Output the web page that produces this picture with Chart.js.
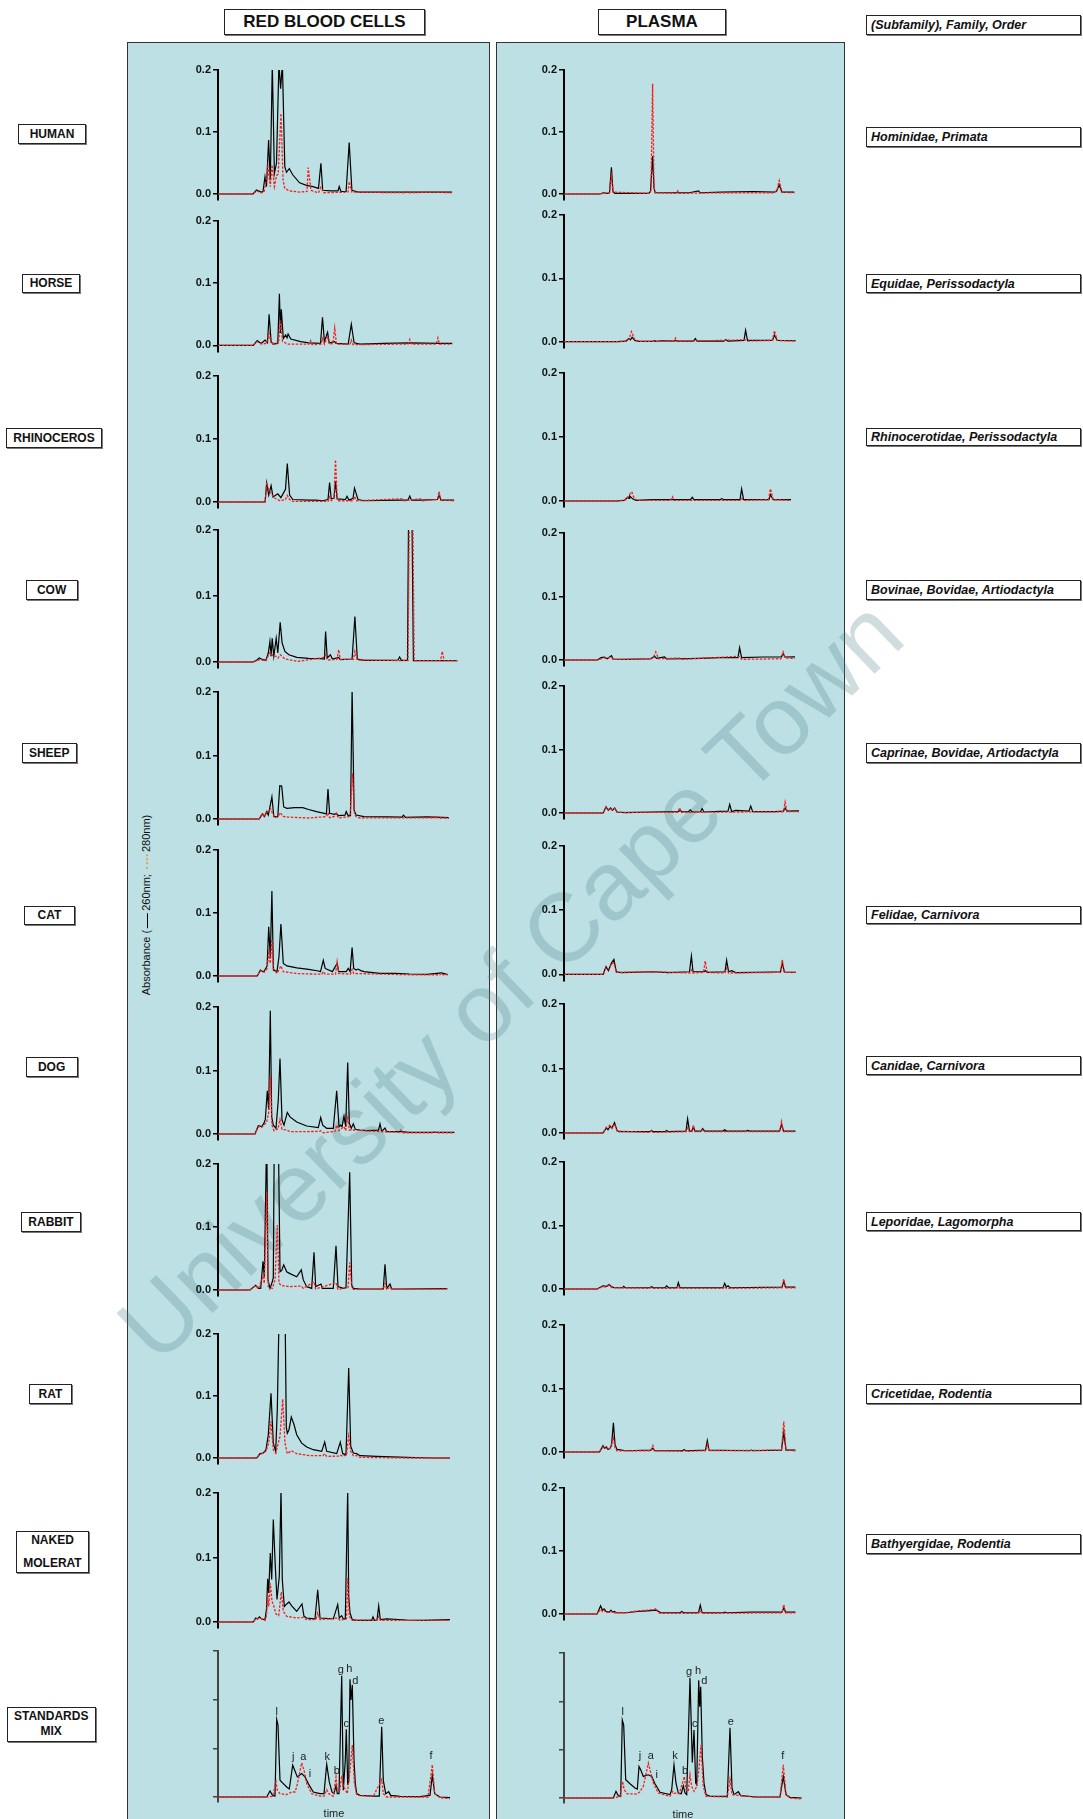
<!DOCTYPE html>
<html><head><meta charset="utf-8">
<script src="https://cdn.jsdelivr.net/npm/chart.js@4.4.1/dist/chart.umd.min.js"></script>
<style>
body{margin:0;width:1083px;height:1819px;position:relative;overflow:hidden;background:#fff;font-family:"Liberation Sans",Arial,sans-serif;}
.panel{position:absolute;background:#bce0e3;border:1.5px solid #333;box-sizing:border-box;z-index:0}
.box{position:absolute;border:1px solid #222;box-shadow:1px 1px 0 #777;background:#fff;box-sizing:border-box;display:flex;flex-direction:column;align-items:center;justify-content:center;font-weight:bold;font-size:12px;color:#111;text-align:center;z-index:3;white-space:nowrap}
.tax{align-items:flex-start;padding-left:4px;font-style:italic;font-size:12.5px}
.hdr{font-size:17px}
canvas{position:absolute;z-index:2}
#wm{position:absolute;left:510px;top:980px;transform:translate(-50%,-50%) rotate(-44deg);font-size:97px;color:rgba(80,130,135,0.27);white-space:nowrap;z-index:1;font-family:"Liberation Sans",Arial,sans-serif}
#ytitle{position:absolute;left:146px;top:905px;transform:translate(-50%,-50%) rotate(-90deg);font-size:11px;color:#111;white-space:nowrap;z-index:3}
.l1{display:inline-block;width:15px;border-top:1.5px solid #000;vertical-align:middle;margin:0 2px}
.l2{display:inline-block;width:15px;border-top:2px dotted #d8a860;vertical-align:middle;margin:0 2px}
.time{position:absolute;font-size:11px;color:#222;z-index:3;transform:translate(-50%,-50%)}
</style></head><body>
<div class="panel" style="left:127px;top:42px;width:363px;height:1800px"></div>
<div class="panel" style="left:495.5px;top:42px;width:349px;height:1800px"></div>
<div id="wm">University of Cape Town</div>
<div id="ytitle">Absorbance (<span class="l1"></span>260nm; <span class="l2"></span>280nm)</div>
<div class="box hdr" style="left:224px;top:9px;width:201px;height:26px">RED BLOOD CELLS</div>
<div class="box hdr" style="left:598px;top:9px;width:128px;height:26px">PLASMA</div>
<div class="time" style="left:334px;top:1813px">time</div>
<div class="time" style="left:683px;top:1814px">time</div>
<div id="labels"></div>
<script>
// ---------- categories / labels ----------
const SPECIES = ['HUMAN','HORSE','RHINOCEROS','COW','SHEEP','CAT','DOG','RABBIT','RAT','NAKED\nMOLERAT','STANDARDS\nMIX'];
const TAXA_HEADER = '(Subfamily), Family, Order';
const TAXA = ['Hominidae, Primata','Equidae, Perissodactyla','Rhinocerotidae, Perissodactyla','Bovinae, Bovidae, Artiodactyla','Caprinae, Bovidae, Artiodactyla','Felidae, Carnivora','Canidae, Carnivora','Leporidae, Lagomorpha','Cricetidae, Rodentia','Bathyergidae, Rodentia'];
const ABS_TICKS = [0, 0.1, 0.2];
const STD_TICKS = [0, 1, 2, 3];
const STD_LETTERS = ['l','j','a','i','k','b','g','h','c','d','e','f'];
// letter anchor (time, absorbance) for standards, RBC then plasma
const STD_RBC_LETTER_T = [58.7,75.3,85.3,92,109.3,118.7,122.7,131.3,128.3,137.3,163.3,213];
const STD_RBC_LETTER_V = [1.755,0.826,0.826,0.468,0.826,0.53,2.615,2.628,1.5,2.394,1.562,0.84];
const STD_PL_LETTER_T = [58.7,76,86.7,92.7,111,121,125,134,130.7,140.3,166.7,218.7];
const STD_PL_LETTER_V = [1.785,0.872,0.872,0.48,0.872,0.549,2.609,2.63,1.524,2.423,1.565,0.872];

// ---------- series: [time, absorbance] ----------
const humanRbc260 = [[0,0],[35,0],[38.5,0.0065],[43,0.003],[45,0.004],[47,0.028],[48.5,0.012],[50.6,0.087],[52.3,0.022],[54.3,0.21],[56.4,0.033],[58.5,0.05],[60.9,0.21],[62.6,0.17],[64.4,0.21],[66.8,0.044],[68.5,0.035],[71.3,0.041],[74.7,0.031],[81.6,0.018],[88.5,0.014],[95,0.012],[100.5,0.009],[102.9,0.0495],[104.7,0.006],[112.6,0.005],[120,0.005],[121.2,0.012],[122.9,0.004],[128.1,0.004],[131.2,0.083],[133.9,0.006],[140.1,0.003],[160.8,0.003],[234.1,0.003]];
const humanRbc280 = [[0,0],[35,0],[38.5,0.005],[43,0.002],[46,0.003],[48,0.02],[49.9,0.044],[52.3,0.012],[54,0.047],[56.4,0.012],[58.5,0.03],[60.2,0.032],[63,0.13],[65.1,0.022],[66.8,0.009],[71.3,0.005],[81.6,0.003],[89,0.004],[90.2,0.0425],[93,0.006],[100.5,0.002],[102.9,0.011],[105.7,0.002],[130,0.003],[131.2,0.02],[133.9,0.003],[187,0.002],[188.3,0.004],[190,0.002],[215.9,0.003],[234,0.002]];
const horseRbc260 = [[0,0],[35.3,0],[39.2,0.0075],[43.2,0.003],[47.1,0.0085],[49.5,0.004],[51.1,0.05],[53.1,0.006],[55,0.002],[59.8,0.003],[61.4,0.083],[62.5,0.02],[63.3,0.058],[65.3,0.011],[67.7,0.0165],[69,0.012],[70.1,0.018],[72.8,0.01],[82.7,0.006],[90.6,0.004],[102.5,0.003],[104.5,0.045],[106.4,0.006],[109.6,0.021],[111.2,0.004],[116.7,0.006],[118,0.003],[130.2,0.002],[133.3,0.034],[136.1,0.004],[142,0.002],[165.8,0.003],[191.8,0.004],[220.3,0.003],[234.2,0.003]];
const horseRbc280 = [[0,0],[35.3,0],[39.2,0.006],[43.2,0.002],[48.5,0.003],[51.1,0.019],[53.1,0.003],[60.5,0.004],[62.5,0.04],[64.5,0.006],[70,0.002],[91,0.002],[92.6,0.0075],[94,0.001],[103,0.002],[104.5,0.011],[106.4,0.002],[109.6,0.015],[111.2,0.002],[115,0.003],[116.7,0.028],[118.5,0.002],[132,0.002],[133.3,0.0085],[135,0.001],[190,0.002],[191.8,0.0095],[193.5,0.002],[218.3,0.002],[219.9,0.012],[221.5,0.002],[234.2,0.002]];
const rhinoRbc260 = [[0,0],[47.1,0],[48.7,0.03],[50.7,0.011],[53.1,0.026],[55,0.008],[59.8,0.013],[62.9,0.007],[67.5,0.02],[69.3,0.061],[71.6,0.011],[74.8,0.004],[90.6,0.003],[97.7,0.003],[104.5,0.002],[110,0.004],[111.6,0.031],[113.2,0.005],[116,0.006],[117.5,0.033],[119.1,0.005],[127.5,0.004],[129,0.009],[131,0.003],[135,0.006],[136.5,0.022],[140,0.004],[146,0.002],[181.6,0.003],[190,0.003],[191.8,0.0095],[193.4,0.003],[202.5,0.003],[219.5,0.004],[221.1,0.0105],[223,0.003],[236.1,0.003]];
const rhinoRbc280 = [[0,0],[47.1,0],[48.7,0.031],[50.9,0.0185],[53.1,0.013],[57,0.006],[62,0.002],[67.5,0.004],[69.3,0.0105],[71.6,0.004],[74.8,0.001],[110,0.001],[111.6,0.008],[113.2,0.002],[116,0.006],[117.5,0.067],[119.1,0.008],[120.5,0.002],[135,0.002],[136.5,0.009],[138.5,0.002],[184.3,0.005],[186,0.002],[202.5,0.005],[204,0.002],[219.5,0.004],[221.1,0.017],[223,0.003],[236.1,0.002]];
const cowRbc260 = [[0,0],[35.3,0],[39.2,0.0035],[41.2,0.006],[45.2,0.0035],[47.9,0.0025],[50.3,0.0136],[51.9,0.031],[53.1,0.0086],[54.2,0.036],[55.8,0.0086],[58.2,0.036],[59.8,0.0136],[62.2,0.06],[64.1,0.029],[66.9,0.016],[70.9,0.011],[78.8,0.007],[90.6,0.0055],[102.5,0.005],[106.4,0.0045],[107.6,0.046],[109.2,0.006],[112.4,0.011],[114.4,0.0045],[120.7,0.007],[122.3,0.0035],[134.1,0.0045],[136.9,0.069],[139.3,0.0045],[146,0.0025],[169.7,0.0025],[180,0.003],[181.6,0.0076],[183.5,0.0025],[189.5,0.0025],[190.7,0.25],[193.8,0.25],[195.4,0.002],[209.2,0.002],[239.3,0.002]];
const cowRbc280 = [[0,0],[35.3,0],[41.2,0.0035],[47.9,0.002],[50.8,0.011],[52.3,0.015],[55,0.009],[58.2,0.0086],[60,0.006],[62.2,0.011],[66.9,0.0045],[80,0.001],[106.4,0.007],[107.6,0.011],[109.5,0.003],[119,0.004],[120.7,0.0186],[122.3,0.004],[135.5,0.004],[136.9,0.016],[139.3,0.003],[190,0.002],[191.5,0.25],[194.6,0.25],[196.2,0.002],[222.5,0.002],[224.3,0.016],[226.2,0.002],[239.3,0.002]];
const sheepRbc260 = [[0,0],[41.2,0],[44.4,0.008],[46.3,0.0037],[48.7,0.0116],[50.3,0.0063],[53.9,0.035],[55.8,0.0037],[59.8,0.0037],[61.8,0.0526],[63.7,0.052],[65.7,0.019],[68.9,0.0168],[76.8,0.018],[84.7,0.0179],[90.6,0.015],[98.5,0.0116],[106.4,0.0089],[108.4,0.008],[110,0.047],[111.6,0.009],[116.3,0.0074],[118.3,0.009],[120.3,0.0053],[127,0.006],[128.2,0.0116],[130.2,0.0053],[132.5,0.0053],[134.1,0.205],[136.1,0.014],[138.1,0.0063],[146,0.0037],[169.7,0.0032],[184,0.003],[185.5,0.006],[187.5,0.0026],[209.2,0.0032],[231,0.0021]];
const sheepRbc280 = [[0,0],[41.2,0],[44.4,0.009],[46.3,0.0037],[49.5,0.0116],[52.7,0.016],[54.5,0.009],[57,0.002],[60,0.004],[62.2,0.01],[65,0.004],[70,0.003],[90.6,0.0016],[108.4,0.0037],[110,0.01],[111.6,0.002],[116.3,0.004],[118.3,0.009],[120.3,0.0016],[132,0.004],[134.5,0.072],[136.5,0.008],[138.1,0.0037],[142,0.0016],[217,0.002],[218.3,0.005],[220,0.0016],[231,0.0016]];
const catRbc260 = [[0,0],[39.2,0],[42.4,0.0095],[44.8,0.0069],[46.3,0.008],[49.1,0.016],[50.7,0.078],[52.3,0.03],[53.9,0.135],[55.4,0.0095],[59,0.0069],[61,0.031],[62.9,0.0825],[65.3,0.02],[68.9,0.016],[78.8,0.013],[90.6,0.0106],[100.5,0.008],[102.5,0.0069],[105.3,0.025],[107.2,0.012],[114.4,0.0069],[119.1,0.02],[120.7,0.0069],[128.2,0.0069],[130.2,0.012],[132.1,0.0069],[134.1,0.045],[135.7,0.012],[138.1,0.0095],[140,0.011],[142.8,0.0085],[146,0.0069],[161.8,0.0042],[177.6,0.0042],[191.5,0.0032],[209.2,0.0026],[223.5,0.0048],[229.8,0.0021]];
const catRbc280 = [[0,0],[39.2,0],[42.4,0.008],[46.3,0.006],[49.1,0.012],[50.7,0.036],[52.3,0.02],[53.9,0.058],[55.4,0.012],[59,0.004],[62.9,0.016],[65.3,0.0069],[78.8,0.004],[90.6,0.0032],[104,0.003],[105.3,0.007],[107.2,0.003],[117.5,0.003],[119.1,0.0227],[120.7,0.004],[132.5,0.003],[134.1,0.0106],[135.7,0.004],[191.5,0.002],[221.8,0.002],[223.5,0.0048],[225,0.002],[229.8,0.0021]];
const dogRbc260 = [[0,0],[37,0],[40.3,0.013],[43.7,0.0116],[46,0.017],[47.3,0.023],[49.3,0.068],[50.7,0.038],[52.3,0.194],[53.7,0.027],[55.3,0.014],[58,0.009],[60.3,0.054],[62,0.119],[64,0.022],[66,0.014],[69.3,0.034],[72,0.027],[78.7,0.019],[88.7,0.0126],[100.3,0.01],[102.7,0.026],[104.7,0.014],[108.7,0.009],[115.3,0.009],[118.7,0.068],[121,0.0116],[122.7,0.014],[124,0.0116],[126,0.028],[127.7,0.0116],[129.7,0.1126],[131.3,0.017],[133.3,0.009],[135.3,0.016],[137.3,0.0074],[142,0.0063],[148.7,0.0053],[160.5,0.006],[162,0.016],[163.7,0.0042],[167,0.0095],[168.7,0.0037],[182,0.0037],[192,0.0026],[215.3,0.0026],[236.3,0.0026]];
const dogRbc280 = [[0,0],[37,0],[40.3,0.0116],[43.7,0.0105],[46,0.014],[48.7,0.019],[50.7,0.034],[52.3,0.092],[54,0.014],[56,0.005],[60,0.008],[62,0.023],[64,0.0074],[68.7,0.0063],[72,0.0037],[101.5,0.004],[102.7,0.005],[105.3,0.002],[117,0.004],[118.7,0.014],[121,0.0053],[126,0.0116],[127.7,0.0053],[129.7,0.028],[131.3,0.0063],[135.3,0.0063],[162,0.0037],[181,0.003],[182.7,0.0063],[185.3,0.002],[214,0.002],[215.3,0.004],[218.7,0.002],[236.3,0.002]];
const rabbitRbc260 = [[0,0],[32,0],[37.7,0.0074],[40.3,0.0026],[42.7,0.0026],[45,0.0455],[46.3,0.021],[48.7,0.25],[50,0.016],[52,0.0026],[54.3,0.013],[55.3,0.02],[56.3,0.25],[60.3,0.25],[62,0.029],[63.7,0.031],[65.7,0.04],[68.7,0.029],[72,0.026],[78.7,0.021],[83.3,0.032],[85.3,0.016],[88.7,0.0053],[93.7,0.0026],[96,0.06],[97.7,0.0053],[103,0.0095],[104.3,0.0026],[115.3,0.0026],[118,0.07],[120,0.0053],[125.3,0.0026],[128,0.0037],[131.7,0.187],[133.7,0.008],[135.3,0.0026],[142,0.0016],[165.3,0.0016],[167,0.041],[168.7,0.0026],[172,0.0095],[173.7,0.0016],[185.3,0.0016],[229.3,0.0021]];
const rabbitRbc280 = [[0,0],[32,0],[37.7,0.0074],[40.3,0.0021],[45,0.021],[46.3,0.0106],[48.7,0.156],[50.3,0.0053],[54.3,0.0026],[57,0.016],[59.3,0.103],[61,0.0106],[63.7,0.0069],[72,0.0053],[83.3,0.0063],[85.3,0.0026],[96,0.013],[97.7,0.0016],[118,0.0116],[120,0.001],[130,0.004],[131.7,0.0434],[133.7,0.0053],[135.3,0.001],[165.3,0.001],[167,0.0106],[168.7,0.001],[172,0.005],[173.7,0.001],[229.3,0.0016]];
const ratRbc260 = [[0,0],[38.7,0],[42,0.007],[45.3,0.008],[48,0.0134],[50.3,0.0375],[53,0.1045],[55.3,0.024],[57.7,0.0107],[59.3,0.078],[61.3,0.25],[67,0.25],[68.3,0.05],[69.3,0.04],[71,0.0456],[73.3,0.066],[76,0.054],[78.7,0.0375],[83.7,0.024],[88.7,0.0177],[95.3,0.0134],[103.7,0.0107],[106.7,0.0257],[108.7,0.0107],[118.7,0.007],[122.3,0.0257],[124.7,0.007],[128,0.0054],[130.7,0.145],[132.7,0.019],[135.3,0.008],[138.7,0.007],[142,0.0037],[158.7,0.0027],[188.7,0.0011],[215.3,0],[232,0]];
const ratRbc280 = [[0,0],[38.7,0],[42,0.0054],[48,0.0107],[50.7,0.024],[53,0.059],[55.3,0.0134],[57.7,0.008],[62,0.035],[64.7,0.095],[67,0.024],[69.3,0.007],[73.3,0.0118],[78.7,0.007],[92,0.0037],[105,0.004],[106.7,0.007],[108.7,0.0027],[120.5,0.003],[122,0.005],[124.7,0.0027],[128.5,0.005],[130.7,0.035],[132.7,0.0107],[135.3,0.0037],[138.7,0.0037],[142,0.001],[188.7,0],[232,0]];
const moleratRbc260 = [[0,0],[35.3,0],[37.7,0.0062],[39.7,0.0047],[41.3,0.0078],[43.7,0.0047],[47,0.0036],[48.5,0.02],[49.7,0.067],[50.7,0.045],[52.3,0.107],[53.7,0.066],[55.3,0.159],[57.3,0.086],[59,0.035],[61.3,0.071],[63,0.205],[64.3,0.066],[66.3,0.024],[68.7,0.028],[71,0.031],[73.7,0.025],[78.7,0.0165],[84,0.028],[86,0.0088],[88.7,0.0062],[97,0.0047],[99.7,0.05],[102,0.0062],[115.3,0.0047],[119.7,0.027],[121.3,0.0062],[123.7,0.0098],[125.3,0.0047],[127.3,0.0047],[129.7,0.205],[130.7,0.04],[132,0.014],[134.3,0.0036],[138.7,0.0026],[153.7,0.0026],[155,0.0078],[156.3,0.0026],[159,0.003],[160.7,0.025],[162.3,0.0036],[168.7,0.0047],[188.7,0.0031],[205.3,0.0026],[232,0.0036]];
const moleratRbc280 = [[0,0],[35.3,0],[37.7,0.0047],[41.3,0.0062],[47,0.0026],[48.5,0.01],[49.7,0.042],[50.7,0.024],[52.3,0.06],[54,0.032],[55.3,0.027],[58,0.0124],[60.7,0.01],[63.3,0.0465],[65.3,0.0165],[68.7,0.0088],[78.7,0.0062],[85.3,0.0072],[88.7,0.0036],[98,0.004],[99.7,0.014],[102,0.0036],[119.7,0.0062],[122,0.0026],[128.5,0.005],[129.7,0.068],[131.3,0.0088],[134.3,0.0026],[159,0.003],[160.7,0.0088],[162.3,0.0026],[232,0.0026]];
const stdRbc260 = [[0,0],[48.7,0],[52,0.124],[54.7,0.028],[57,0.02],[58.7,1.597],[60,1.48],[62,0.344],[65.3,0.275],[68.7,0.206],[71.3,0.165],[74.7,0.654],[76.7,0.55],[79.3,0.413],[83.7,0.482],[87,0.413],[90.3,0.275],[95.3,0.103],[102,0.069],[106,0.069],[108.7,0.674],[111.3,0.31],[114,0.103],[116,0.069],[118,0.24],[119.3,0.069],[121,0.069],[123.7,2.49],[125.3,0.138],[127.3,0.757],[128.3,1.39],[129.7,0.275],[130.7,0.31],[132,2.42],[133,1.995],[134.3,2.305],[136,0.757],[137.3,0.275],[138.7,0.069],[142,0.034],[155.3,0.02],[161.3,0.02],[163.7,1.445],[165.3,0.344],[167.7,0.069],[170.7,0.11],[172.7,0.034],[182,0.014],[202,0.007],[212,0.034],[214.3,0.447],[216.7,0.069],[222,0],[232,-0.014]];
const stdRbc280 = [[0,0],[48.7,0],[54.7,0.014],[58,0.31],[59.3,0.138],[62,0.069],[68.7,0.048],[73.7,0.103],[77,0.103],[78.7,0.206],[83.7,0.702],[86,0.55],[88.7,0.275],[93.7,0.069],[102,0.02],[106,0.02],[108.7,0.151],[110.7,0.069],[115.3,0.014],[118,0.413],[119.3,0.138],[122,0.151],[123.7,0.44],[125.3,0.206],[127,0.172],[129.3,0.069],[132,0.55],[134.3,1.067],[136.3,0.31],[138.7,0.034],[155.3,0.014],[163.7,0.358],[165.3,0.069],[168.7,0],[210,0],[214.3,0.667],[216.7,0.069],[222,-0.014],[232,-0.034]];

const humanPl260 = [[0,0],[35.6,0],[39.4,0.002],[43.2,0.001],[45.5,0.002],[47.4,0.043],[49,0.004],[50.8,0.001],[84.8,0.001],[86.5,0.004],[88.6,0.061],[90,0.01],[91.2,0.002],[99.9,0.002],[113.9,0.002],[125.2,0.002],[134.7,0.005],[136,0.002],[157.8,0.003],[189.5,0.004],[209.6,0.003],[212.5,0.004],[215.2,0.015],[217.9,0.003],[230.3,0.003]];
const humanPl280 = [[0,0],[35.6,0],[45.5,0.002],[47.4,0.0285],[49,0.003],[84.8,0.001],[87,0.006],[88.6,0.178],[90,0.012],[91.2,0.002],[112.5,0.001],[113.9,0.005],[115.3,0.001],[157.8,0.002],[209.6,0.002],[213,0.006],[215.2,0.0215],[217.9,0.003],[230.3,0.002]];
const horsePl260 = [[0,0],[53,0],[62,0.001],[64.9,0.005],[66.5,0.003],[68.1,0.007],[70.8,0.002],[74.8,0.0005],[89,0.0005],[90.6,0.0015],[92,0.0005],[97.7,0.0015],[110,0.001],[111.6,0.002],[113,0.001],[129.5,0.001],[131.3,0.005],[133,0.001],[160,0.001],[161.8,0.003],[164,0.001],[180,0.002],[181.6,0.018],[183.5,0.002],[208.5,0.002],[210.4,0.0105],[213.2,0.002],[231.8,0.0015]];
const horsePl280 = [[0,0],[53,0],[62,0.001],[65,0.004],[67.5,0.016],[70.8,0.003],[74.8,0.0005],[110,0.0005],[111.6,0.006],[113.5,0.0005],[181.6,0.003],[183.5,0.001],[208.5,0.002],[210.4,0.0175],[213.2,0.002],[231.8,0.001]];
const rhinoPl260 = [[0,0],[53,0],[60,0.001],[63.7,0.0057],[65,0.004],[65.7,0.008],[68.9,0.003],[72,0.001],[88.6,0.002],[108.4,0.002],[126.5,0.002],[128.2,0.0057],[130,0.002],[156,0.002],[157.8,0.0036],[160,0.002],[176,0.002],[177.6,0.019],[179.6,0.002],[205,0.002],[206.5,0.01],[209.2,0.002],[227,0.002]];
const rhinoPl280 = [[0,0],[53,0],[62,0.002],[65,0.009],[67.7,0.0146],[70.5,0.003],[74,0.001],[106.5,0.001],[108.4,0.0068],[110.3,0.001],[176,0.001],[177.6,0.004],[179.6,0.001],[204.5,0.002],[206.5,0.019],[209.2,0.002],[227,0.001]];
const cowPl260 = [[0,0],[33.3,0],[37.2,0.0037],[40.4,0.0047],[43.2,0.002],[47.5,0.0069],[49.1,0.0016],[61,0.001],[86.7,0.002],[90.6,0.0058],[92.6,0.0026],[100.5,0.0047],[102.5,0.0016],[136.1,0.0026],[155.8,0.0037],[174,0.0037],[175.6,0.0195],[177.6,0.0037],[199.3,0.0047],[217.5,0.005],[219.1,0.01],[221.1,0.0047],[231,0.005]];
const cowPl280 = [[0,0],[33.3,0],[37.2,0.002],[40.4,0.003],[47.5,0.004],[49.1,0.001],[86.7,0.001],[89.5,0.004],[91.8,0.0127],[94.6,0.002],[115.5,0.003],[117,0.001],[175.6,0.0058],[177.6,0.001],[217,0.002],[219.1,0.0127],[221.1,0.003],[231,0.0026]];
const sheepPl260 = [[0,0],[39.2,0],[42,0.0095],[44.4,0.0042],[46.7,0.008],[48.3,0.0042],[50.7,0.008],[53,0.0016],[61,0.0005],[100.5,0.002],[114,0.002],[116.3,0.004],[118,0.002],[124.5,0.002],[126.2,0.005],[128.2,0.0016],[136.5,0.002],[138.1,0.007],[140,0.0016],[155.8,0.0026],[164,0.003],[165.7,0.0137],[167.7,0.0021],[171.7,0.004],[185,0.003],[186.7,0.011],[188.7,0.0021],[211.2,0.0021],[219.5,0.003],[221.1,0.008],[223.1,0.003],[235,0.0032]];
const sheepPl280 = [[0,0],[39.2,0],[42,0.0095],[44.4,0.0053],[46.7,0.007],[48.3,0.005],[50.7,0.0074],[53,0.001],[114,0.001],[115.5,0.0084],[117.5,0.001],[219.5,0.002],[221.1,0.0173],[223.1,0.002],[235,0.0021]];
const catPl260 = [[0,0],[39.2,0],[42,0.012],[44.4,0.0057],[47.5,0.018],[49.9,0.023],[52.3,0.004],[57,0.0026],[88.6,0.004],[104.5,0.0026],[125.5,0.004],[127.4,0.0285],[129,0.004],[140.4,0.004],[141.2,0.006],[143.2,0.003],[161,0.004],[162.6,0.022],[164.6,0.004],[167.7,0.0057],[171.7,0.0026],[209.2,0.0036],[216.5,0.004],[218.3,0.018],[220.3,0.0036],[231.8,0.0031]];
const catPl280 = [[0,0],[39.2,0],[42,0.0104],[45,0.008],[47.5,0.016],[49.9,0.018],[52.3,0.003],[88.6,0.004],[126,0.002],[127.4,0.0067],[129,0.002],[139.5,0.003],[141.2,0.0207],[143.2,0.003],[161,0.002],[162.6,0.0093],[164.6,0.002],[216.5,0.003],[218.3,0.0228],[220.3,0.003],[231.8,0.003]];
const dogPl260 = [[0,0],[39,0],[42.4,0.008],[44,0.005],[46,0.01],[48,0.008],[50.5,0.016],[53,0.004],[55,0.002],[86,0.002],[87.6,0.004],[89,0.002],[101,0.002],[102.7,0.004],[104.5,0.002],[122,0.003],[123.6,0.022],[125.5,0.003],[127.8,0.003],[129.4,0.009],[131,0.003],[137,0.003],[138.7,0.007],[140.5,0.003],[159,0.003],[160.7,0.005],[162.5,0.003],[182,0.003],[183.9,0.004],[185.5,0.003],[215.5,0.003],[217.5,0.013],[219.5,0.003],[231.4,0.003]];
const dogPl280 = [[0,0],[39,0],[42.4,0.009],[46,0.012],[48,0.007],[50.5,0.014],[53,0.003],[86,0.001],[87.6,0.004],[89,0.001],[122,0.002],[123.6,0.008],[125.5,0.002],[127.8,0.002],[129.4,0.012],[131,0.002],[137,0.002],[138.7,0.005],[140.5,0.002],[215.5,0.002],[217.5,0.018],[219.5,0.002],[231.4,0.002]];
const rabbitPl260 = [[0,0],[33,0],[39,0.005],[42.4,0.004],[45,0.007],[48.2,0.003],[52,0.002],[58.5,0.002],[59.8,0.004],[61,0.002],[86,0.002],[87.6,0.004],[89,0.002],[101,0.002],[102.7,0.005],[104.5,0.002],[113,0.002],[114.3,0.01],[116,0.002],[159,0.002],[160.7,0.009],[162.3,0.003],[164.1,0.005],[166,0.002],[218,0.003],[219.8,0.012],[221.5,0.003],[231.4,0.003]];
const rabbitPl280 = [[0,0],[33,0],[39,0.004],[42.4,0.003],[45,0.006],[48.2,0.002],[86,0.001],[87.6,0.003],[89,0.001],[113,0.001],[114.3,0.005],[116,0.001],[159,0.001],[160.7,0.004],[162.3,0.001],[218,0.002],[219.8,0.016],[221.5,0.002],[231.4,0.002]];
const ratPl260 = [[0,0],[35.5,0],[39,0.01],[40.5,0.006],[42.4,0.008],[44,0.004],[46,0.006],[47.5,0.01],[49.4,0.046],[51,0.012],[52.9,0.004],[62.1,0.002],[87,0.003],[88.8,0.006],[90.5,0.002],[118.5,0.002],[120.1,0.004],[121.7,0.002],[141.5,0.003],[143.3,0.018],[145,0.003],[186,0.002],[187.4,0.003],[189,0.002],[217.5,0.003],[219.8,0.031],[222,0.003],[231.4,0.003]];
const ratPl280 = [[0,0],[35.5,0],[39,0.008],[42.4,0.006],[46,0.005],[49.4,0.022],[51,0.007],[52.9,0.002],[86.5,0.002],[88.8,0.01],[90.5,0.002],[118.5,0.001],[120.1,0.003],[121.7,0.001],[141.5,0.002],[143.3,0.012],[145,0.002],[217.5,0.003],[219.8,0.048],[222,0.003],[231.4,0.002]];
const moleratPl260 = [[0,0],[33.1,0],[36.6,0.013],[38.5,0.006],[40.1,0.008],[42,0.004],[45.5,0.003],[47,0.006],[48.5,0.003],[50.5,0.004],[52,0.002],[62.1,0.002],[73.7,0.004],[83,0.005],[92.3,0.006],[96.9,0.002],[116,0.002],[117.8,0.004],[119.5,0.002],[134.5,0.002],[136.3,0.014],[138,0.002],[159,0.002],[160.7,0.003],[162.5,0.002],[187.4,0.003],[218,0.003],[219.8,0.01],[221.5,0.003],[231.4,0.003]];
const moleratPl280 = [[0,0],[33.1,0],[36.6,0.008],[38.5,0.004],[40.1,0.006],[42,0.002],[47,0.004],[50.5,0.002],[62.1,0.002],[73.7,0.005],[83,0.006],[90,0.007],[92.3,0.009],[94,0.002],[96.9,0.001],[134.5,0.001],[136.3,0.006],[138,0.001],[218,0.002],[219.8,0.015],[221.5,0.002],[231.4,0.002]];
const stdPl260 = [[0,0],[49.3,0],[52,0.137],[54.3,0.048],[56.7,0.034],[58.3,1.613],[59.7,1.51],[61.7,0.378],[66,0.295],[71,0.206],[73.3,0.185],[75,0.652],[76.7,0.584],[79.3,0.446],[84.3,0.48],[87.7,0.446],[91,0.295],[96,0.117],[106,0.069],[107.7,0.172],[110,0.686],[112,0.309],[114.3,0.103],[117.3,0.089],[119.3,0.254],[121,0.103],[122.7,0.069],[126,2.485],[128.3,0.735],[130,1.407],[131.7,0.309],[132.7,0.275],[134.7,2.437],[135.7,1.888],[136.7,2.3],[138.3,0.858],[140,0.309],[142,0.069],[146,0.034],[163.3,0.034],[166,1.455],[168,0.206],[170,0.069],[174.3,0.13],[176.7,0.048],[192.7,0.021],[216,0.021],[219.3,0.446],[222,0.069],[226,0.014],[237.7,0]];
const stdPl280 = [[0,0],[49.3,0],[56,0.034],[58.7,0.343],[60,0.185],[62.7,0.089],[72.7,0.082],[75.3,0.117],[79.3,0.24],[84.3,0.721],[86,0.584],[89.3,0.309],[94.3,0.103],[106,0.034],[108.7,0.137],[110,0.103],[115.3,0.089],[120.3,0.446],[122,0.172],[124.3,0.137],[126,0.48],[127.7,0.24],[130,0.137],[132.7,0.24],[134.7,0.549],[137,1.098],[139.3,0.24],[142,0.034],[163.3,0.021],[166,0.391],[168,0.069],[192.7,0.014],[216,0.014],[219.3,0.686],[222,0.069],[226,0],[237.7,-0.021]];

const RBC_260 = [humanRbc260,horseRbc260,rhinoRbc260,cowRbc260,sheepRbc260,catRbc260,dogRbc260,rabbitRbc260,ratRbc260,moleratRbc260,stdRbc260];
const RBC_280 = [humanRbc280,horseRbc280,rhinoRbc280,cowRbc280,sheepRbc280,catRbc280,dogRbc280,rabbitRbc280,ratRbc280,moleratRbc280,stdRbc280];
const PL_260 = [humanPl260,horsePl260,rhinoPl260,cowPl260,sheepPl260,catPl260,dogPl260,rabbitPl260,ratPl260,moleratPl260,stdPl260];
const PL_280 = [humanPl280,horsePl280,rhinoPl280,cowPl280,sheepPl280,catPl280,dogPl280,rabbitPl280,ratPl280,moleratPl280,stdPl280];

// ---------- layout (pixels) ----------
const RBC_AXIS_X = 218, PL_AXIS_X = 564, TIME_SPAN = 240;
const RBC_TOP  = [70,220.7,375.7,530,692,850,1007,1164,1334,1493,1651];
const RBC_ZERO = [194,345,501.7,662,819,976,1134,1290,1458,1622,1797];
const PL_TOP   = [70,215,373,533,685.7,845.7,1004,1162,1325,1488,1653];
const PL_ZERO  = [194,341.7,501,660,812.7,974,1133,1289,1452,1614,1798];
const LEFT_BOX = [[18,124,86,144],[22,274,80,293],[6,428,102,448],[25.5,580,77.7,600],[22,743,76.5,763],[24,905.5,75,925],[25.5,1057,77.7,1077],[21,1212,81,1232],[29,1384,72,1404],[15.7,1531,89.3,1573],[6.7,1706.7,95.7,1741.7]];
const RIGHT_BOX_Y = [[127,147],[274,293],[428,446],[580,600],[743,763],[905.5,924],[1056,1075],[1212,1231],[1384,1404],[1534,1554]];

// ---------- labels ----------
const lab = document.getElementById('labels');
function addBox(x1,y1,x2,y2,html,cls){
  const d=document.createElement('div'); d.className='box '+(cls||'');
  d.style.left=x1+'px'; d.style.top=y1+'px'; d.style.width=(x2-x1)+'px'; d.style.height=(y2-y1)+'px';
  d.innerHTML=html; lab.appendChild(d);
}
SPECIES.forEach((s,i)=>{
  const b=LEFT_BOX[i]; const lines=s.split('\n');
  const lh = (s.startsWith('NAKED')) ? '23px' : '15px';
  addBox(b[0],b[1],b[2],b[3],lines.map(l=>'<div style="line-height:'+lh+'">'+l+'</div>').join(''),'');
});
addBox(866,15,1081,35,TAXA_HEADER,'tax');
TAXA.forEach((t,i)=>addBox(866,RIGHT_BOX_Y[i][0],1081,RIGHT_BOX_Y[i][1],t,'tax'));

// ---------- charts ----------
const YW = 40, PT = 10, PB = 10, PR = 4;
const letterPlugin = {
  id:'letters',
  afterDatasetsDraw(chart, args, opts){
    if(!opts || !opts.t) return;
    const ctx=chart.ctx; ctx.save();
    ctx.font='11px "Liberation Sans", Arial, sans-serif'; ctx.fillStyle='#222';
    ctx.textAlign='center'; ctx.textBaseline='middle';
    opts.t.forEach((tv,k)=>{
      ctx.fillText(STD_LETTERS[k], chart.scales.x.getPixelForValue(tv), chart.scales.y.getPixelForValue(opts.v[k]));
    });
    ctx.restore();
  }
};
function toXY(arr){ return arr.map(p=>({x:p[0], y:p[1]})); }
function makeChart(axisX, top, zero, d260, d280, isStd, letT, letV){
  const yMax = isStd ? 3 : 0.2;
  const ticks = isStd ? STD_TICKS : ABS_TICKS;
  const pxPerUnit = (zero - top) / yMax;
  const ext = isStd ? 5 : 6;
  const yMin = -ext / pxPerUnit;
  const areaH = (zero - top) + ext;
  const W = YW + TIME_SPAN + PR, H = Math.round(areaH + PT + PB);
  const c=document.createElement('canvas');
  c.width=W; c.height=H; c.style.width=W+'px'; c.style.height=H+'px';
  c.style.left=(axisX-YW)+'px'; c.style.top=(top-PT)+'px';
  document.body.appendChild(c);
  const axisColor = isStd ? '#444' : '#000';
  new Chart(c.getContext('2d'), {
    type:'line',
    data:{datasets:[
      {label:'280nm', data:toXY(d280), borderColor:'#ff1a1a', borderWidth:1.3, borderDash:[2.5,1.5], pointRadius:0, tension:0, fill:false},
      {label:'260nm', data:toXY(d260), borderColor:'#000', borderWidth:1.2, pointRadius:0, tension:0, fill:false}
    ]},
    options:{
      responsive:false, animation:false, devicePixelRatio:1, events:[],
      layout:{autoPadding:false, padding:{top:PT, bottom:H-PT-areaH, left:0, right:PR}},
      plugins:{legend:{display:false}, tooltip:{enabled:false}, letters: isStd ? {t:letT, v:letV} : false},
      scales:{
        x:{type:'linear', min:0, max:TIME_SPAN, display:false},
        y:{type:'linear', min:yMin, max:yMax,
           afterBuildTicks:s=>{ s.ticks = ticks.map(v=>({value:v})); },
           afterFit:s=>{ s.width = YW; },
           ticks:{display:!isStd, padding:2, color:'#111',
                  font:{family:'"Liberation Sans", Arial, sans-serif', size:11, weight:'bold'},
                  callback:v=>Number(v).toFixed(1)},
           grid:{display:true, drawOnChartArea:false, drawTicks:true, tickLength:5, color:axisColor, lineWidth:1.5},
           border:{display:true, color:axisColor, width:2}}
      }
    },
    plugins:[letterPlugin]
  });
}
for(let i=0;i<SPECIES.length;i++){
  const isStd = i===SPECIES.length-1;
  makeChart(RBC_AXIS_X, RBC_TOP[i], RBC_ZERO[i], RBC_260[i], RBC_280[i], isStd, STD_RBC_LETTER_T, STD_RBC_LETTER_V);
  makeChart(PL_AXIS_X, PL_TOP[i], PL_ZERO[i], PL_260[i], PL_280[i], isStd, STD_PL_LETTER_T, STD_PL_LETTER_V);
}
</script>
</body></html>
